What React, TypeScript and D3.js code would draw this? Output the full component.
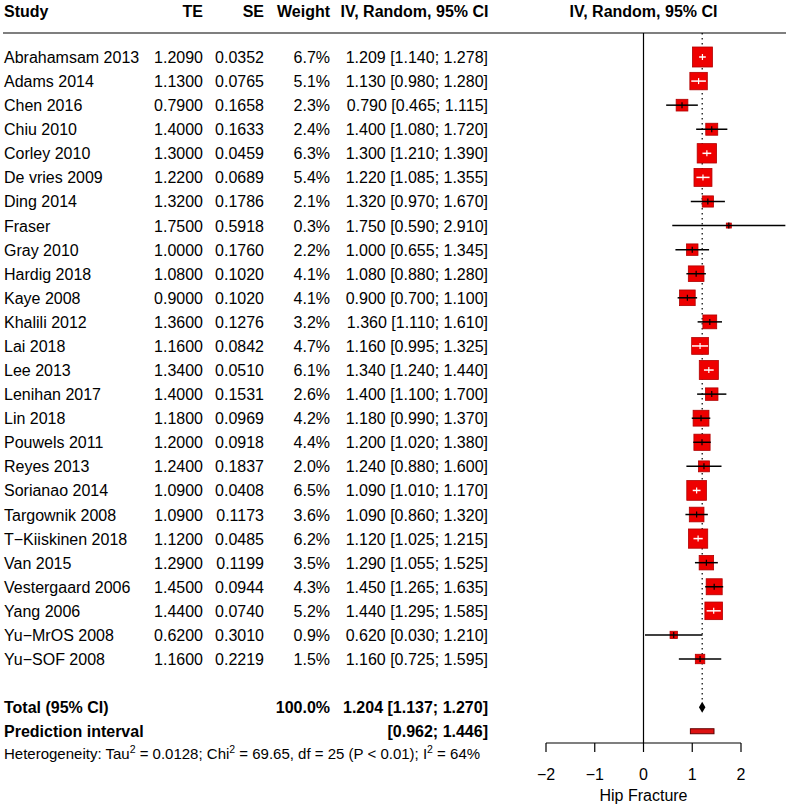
import React from "react";
import * as d3 from "d3";

const studies = ["Abrahamsam 2013","Adams 2014","Chen 2016","Chiu 2010","Corley 2010","De vries 2009","Ding 2014","Fraser","Gray 2010","Hardig 2018","Kaye 2008","Khalili 2012","Lai 2018","Lee 2013","Lenihan 2017","Lin 2018","Pouwels 2011","Reyes 2013","Sorianao 2014","Targownik 2008","T\u2212Kiiskinen 2018","Van 2015","Vestergaard 2006","Yang 2006","Yu\u2212MrOS 2008","Yu\u2212SOF 2008"];
const te = [1.209,1.13,0.79,1.4,1.3,1.22,1.32,1.75,1.0,1.08,0.9,1.36,1.16,1.34,1.4,1.18,1.2,1.24,1.09,1.09,1.12,1.29,1.45,1.44,0.62,1.16];
const se = [0.0352,0.0765,0.1658,0.1633,0.0459,0.0689,0.1786,0.5918,0.176,0.102,0.102,0.1276,0.0842,0.051,0.1531,0.0969,0.0918,0.1837,0.0408,0.1173,0.0485,0.1199,0.0944,0.074,0.301,0.2219];
const weight = [6.7,5.1,2.3,2.4,6.3,5.4,2.1,0.3,2.2,4.1,4.1,3.2,4.7,6.1,2.6,4.2,4.4,2.0,6.5,3.6,6.2,3.5,4.3,5.2,0.9,1.5];
const lower = [1.14,0.98,0.465,1.08,1.21,1.085,0.97,0.59,0.655,0.88,0.7,1.11,0.995,1.24,1.1,0.99,1.02,0.88,1.01,0.86,1.025,1.055,1.265,1.295,0.03,0.725];
const upper = [1.278,1.28,1.115,1.72,1.39,1.355,1.67,2.91,1.345,1.28,1.1,1.61,1.325,1.44,1.7,1.37,1.38,1.6,1.17,1.32,1.215,1.525,1.635,1.585,1.21,1.595];
const pooled = { est: 1.204, lo: 1.137, hi: 1.27 };
const predInterval = [0.962, 1.446];
const axisTicks = [-2, -1, 0, 1, 2];

const FONT = "'Liberation Sans', Arial, Helvetica, sans-serif";

export default function App() {
  const x = d3.scaleLinear().domain([-2, 2]).range([546, 741]);
  const rowY = (i: number) => 63 + i * 24.08; // baseline
  const markY = (i: number) => rowY(i) - 6;
  const side = d3.scaleSqrt().domain([0, 6.7]).range([0, 20]);
  const f4 = d3.format(".4f");
  const f3 = d3.format(".3f");
  const f1 = d3.format(".1f");
  const minus = (s: string) => s.replace("-", "\u2212");

  const totalRow = 27;
  const predRow = 28;
  const hetRow = 29;
  const axisY = 743;

  return (
    <svg width={789} height={809} style={{ position: "absolute", left: 0, top: 0, background: "#fff" }} fontFamily={FONT}>
      <rect width={789} height={809} fill="#fff" />
      {/* header */}
      <g fontWeight="bold" fontSize={16} fill="#000">
        <text x={4} y={17}>Study</text>
        <text x={203} y={17} textAnchor="end">TE</text>
        <text x={264} y={17} textAnchor="end">SE</text>
        <text x={330} y={17} textAnchor="end">Weight</text>
        <text x={414.5} y={17} textAnchor="middle">IV, Random, 95% CI</text>
        <text x={x(0)} y={17} textAnchor="middle">IV, Random, 95% CI</text>
      </g>
      <line x1={3} x2={786} y1={33} y2={33} stroke="#000" strokeWidth={1.2} />
      {/* zero line */}
      <line x1={x(0)} x2={x(0)} y1={33} y2={axisY} stroke="#000" strokeWidth={1.2} />
      {/* pooled dotted line */}
      <line x1={x(pooled.est)} x2={x(pooled.est)} y1={33} y2={700} stroke="#000" strokeWidth={1.2} strokeDasharray="1.5,3.5" />
      {/* study rows */}
      <g fontSize={16} fill="#000">
        {studies.map((s, i) => (
          <g key={s}>
            <text x={4} y={rowY(i)}>{s}</text>
            <text x={203} y={rowY(i)} textAnchor="end">{f4(te[i])}</text>
            <text x={264} y={rowY(i)} textAnchor="end">{f4(se[i])}</text>
            <text x={330} y={rowY(i)} textAnchor="end">{f1(weight[i]) + "%"}</text>
            <text x={488} y={rowY(i)} textAnchor="end">{`${f3(te[i])} [${f3(lower[i])}; ${f3(upper[i])}]`}</text>
          </g>
        ))}
      </g>
      {/* marks */}
      {studies.map((s, i) => {
        const cx = x(te[i]);
        const cy = markY(i);
        const w = Math.max(5, side(weight[i]));
        const x0 = cx - w / 2, x1 = cx + w / 2;
        const inside = x(lower[i]) >= x0 && x(upper[i]) <= x1;
        const lc = inside ? "#fff" : "#000";
        return (
          <g key={"m" + s}>
            <rect x={x0} y={cy - w / 2} width={w} height={w} fill="#ee0000" stroke="#b00000" strokeWidth={0.8} />
            <line x1={x(lower[i])} x2={x(upper[i])} y1={cy} y2={cy} stroke={lc} strokeWidth={1.5} />
            <line x1={cx} x2={cx} y1={cy - 3} y2={cy + 3} stroke={lc} strokeWidth={1.2} />
          </g>
        );
      })}
      {/* total */}
      <g fontSize={16} fontWeight="bold" fill="#000">
        <text x={4} y={rowY(totalRow)}>Total (95% CI)</text>
        <text x={330} y={rowY(totalRow)} textAnchor="end">100.0%</text>
        <text x={488} y={rowY(totalRow)} textAnchor="end">{`${f3(pooled.est)} [${f3(pooled.lo)}; ${f3(pooled.hi)}]`}</text>
        <text x={4} y={rowY(predRow)}>Prediction interval</text>
        <text x={488} y={rowY(predRow)} textAnchor="end">{`[${f3(predInterval[0])}; ${f3(predInterval[1])}]`}</text>
      </g>
      <path
        d={`M${x(pooled.lo)},${markY(totalRow)} L${x(pooled.est)},${markY(totalRow) - 5.5} L${x(pooled.hi)},${markY(totalRow)} L${x(pooled.est)},${markY(totalRow) + 5.5} Z`}
        fill="#000"
      />
      <rect x={x(predInterval[0])} y={markY(predRow) - 2.5} width={x(predInterval[1]) - x(predInterval[0])} height={5} fill="#dd1111" stroke="#600000" strokeWidth={1} />
      {/* heterogeneity */}
      <text x={4} y={rowY(hetRow) - 2} fontSize={15} fill="#000">
        Heterogeneity: Tau<tspan dy={-6} fontSize={10.5}>2</tspan><tspan dy={6}> = 0.0128; Chi</tspan><tspan dy={-6} fontSize={10.5}>2</tspan><tspan dy={6}> = 69.65, df = 25 (P &lt; 0.01); I</tspan><tspan dy={-6} fontSize={10.5}>2</tspan><tspan dy={6}> = 64%</tspan>
      </text>
      {/* axis */}
      <line x1={x(-2)} x2={x(2)} y1={axisY} y2={axisY} stroke="#000" strokeWidth={1.2} />
      {axisTicks.map((t) => (
        <g key={"t" + t}>
          <line x1={x(t)} x2={x(t)} y1={axisY} y2={axisY + 9} stroke="#000" strokeWidth={1.2} />
          <text x={x(t)} y={780} textAnchor="middle" fontSize={16} fill="#000">{minus(String(t))}</text>
        </g>
      ))}
      <text x={x(0)} y={801} textAnchor="middle" fontSize={16} fill="#000">Hip Fracture</text>
    </svg>
  );
}
